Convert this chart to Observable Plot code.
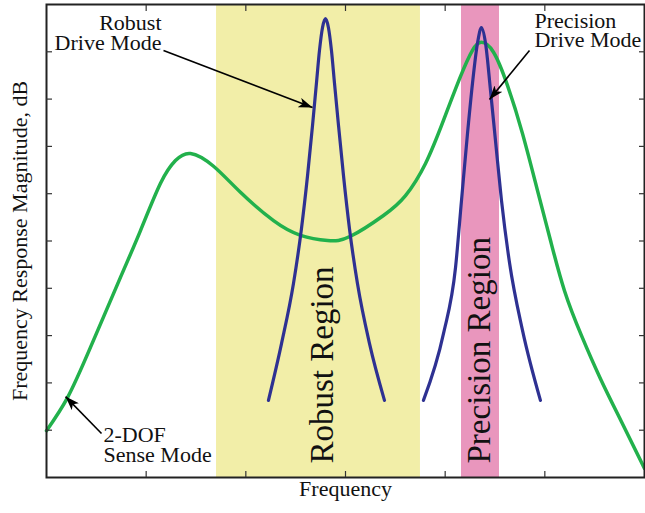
<!DOCTYPE html>
<html><head><meta charset="utf-8">
<script src="https://cdn.jsdelivr.net/npm/d3@7"></script>
<script src="https://cdn.jsdelivr.net/npm/@observablehq/plot@0.6"></script>
<style>body{margin:0;background:#fff}</style>
</head><body><div id="chart"></div>
<script>
// 2-DOF sense mode (green)
const senseX = [0, 0.211, 0.441, 0.742, 0.943, 1.144, 1.294, 1.445, 1.676, 1.946, 2.278, 2.549, 2.820, 3.050, 3.381, 3.602, 3.803, 3.983, 4.154, 4.274, 4.364, 4.485, 4.625, 4.776, 4.926, 5.057, 5.197, 5.368, 5.558, 5.769, 6.0];
const senseY = [0.99, 1.69, 2.75, 4.23, 5.22, 6.22, 6.70, 6.85, 6.58, 6.03, 5.43, 5.12, 5.01, 5.10, 5.54, 5.96, 6.64, 7.55, 8.48, 9.03, 9.20, 8.99, 8.29, 7.27, 6.07, 5.01, 3.95, 3.00, 2.09, 1.18, 0.19];
// Robust drive mode (blue)
const robustX = [2.227, 2.358, 2.478, 2.558, 2.619, 2.669, 2.709, 2.739, 2.769, 2.799, 2.829, 2.859, 2.889, 2.930, 2.980, 3.040, 3.120, 3.241, 3.391];
const robustY = [1.63, 2.83, 4.10, 5.26, 6.38, 7.44, 8.35, 9.03, 9.51, 9.70, 9.51, 9.03, 8.35, 7.44, 6.38, 5.26, 4.10, 2.83, 1.63];
// Precision drive mode (blue)
const precisionX = [3.782, 3.983, 4.104, 4.164, 4.224, 4.274, 4.324, 4.364, 4.405, 4.455, 4.505, 4.565, 4.645, 4.776, 4.956];
const precisionY = [1.63, 3.04, 4.44, 5.86, 7.27, 8.33, 9.18, 9.51, 9.18, 8.18, 7.12, 5.86, 4.55, 3.11, 1.63];
// Regions
const regionNames = ["Robust Region", "Precision Region"];
const regionX1 = [1.706, 4.164];
const regionX2 = [3.752, 4.545];
const regionLabelX = [2.764, 4.339];
const regionLabelY = [0.296, 0.296];
// Annotations
const noteText = ["Robust\nDrive Mode", "Precision\nDrive Mode", "2-DOF\nSense Mode"];
const noteX = [1.154, 4.896, 0.572];
const noteY = [9.383, 9.438, 0.672];
const noteAnchor = ["end", "start", "start"];
const arrowX1 = [1.174, 4.846, 0.552];
const arrowY1 = [9.03, 9.03, 0.93];
const arrowX2 = [2.669, 4.445, 0.191];
const arrowY2 = [7.82, 7.99, 1.71];
// Ticks and axis labels
const xTicks = [1, 2, 3, 4, 5];
const yTicks = [1, 2, 3, 4, 5, 6, 7, 8, 9];
const xLabel = "Frequency";
const yLabel = "Frequency Response Magnitude, dB";

const toPts = (xs, ys) => xs.map((x, i) => ({x, y: ys[i]}));
const sense = toPts(senseX, senseY);
const robust = toPts(robustX, robustY);
const precision = toPts(precisionX, precisionY);
const regions = regionNames.map((name, i) => ({name, x1: regionX1[i], x2: regionX2[i], lx: regionLabelX[i], ly: regionLabelY[i]}));
const notes = noteText.map((text, i) => ({text, x: noteX[i], y: noteY[i], anchor: noteAnchor[i]}));
const arrows = arrowX1.map((x1, i) => ({x1, y1: arrowY1[i], x2: arrowX2[i], y2: arrowY2[i]}));

const tickOpts = {tickSize: 6, tickFormat: () => "", label: null, stroke: "#333", strokeWidth: 1.2};
const font = "Liberation Serif, Times New Roman, serif";

const chart = Plot.plot({
  width: 645, height: 513,
  marginLeft: 46, marginRight: 1, marginTop: 4, marginBottom: 36,
  x: {domain: [0, 6], label: null},
  y: {domain: [0, 10], label: null},
  color: {domain: regionNames, range: ["#f2eea8", "#e996bd"]},
  style: {fontFamily: font, background: "white", color: "black"},
  marks: [
    Plot.rect(regions, {x1: "x1", x2: "x2", fill: "name"}),
    Plot.line(sense, {x: "x", y: "y", stroke: "#22b14c", strokeWidth: 3.5, curve: "natural"}),
    Plot.line(robust, {x: "x", y: "y", stroke: "#2e3192", strokeWidth: 3.2, curve: "monotone-x"}),
    Plot.line(precision, {x: "x", y: "y", stroke: "#2e3192", strokeWidth: 3.2, curve: "monotone-x"}),
    Plot.text(regions, {x: "lx", y: "ly", text: "name", rotate: -90, textAnchor: "start", fontSize: 33, fill: "#111"}),
    Plot.text(notes.filter(d => d.anchor === "end"), {x: "x", y: "y", text: "text", textAnchor: "end", lineHeight: 0.9, fontSize: 22, fill: "#111"}),
    Plot.text(notes.filter(d => d.anchor === "start"), {x: "x", y: "y", text: "text", textAnchor: "start", lineHeight: 0.9, fontSize: 22, fill: "#111"}),
    Plot.link(arrows, {x1: "x1", y1: "y1", x2: "x2", y2: "y2", stroke: "black", strokeWidth: 1.6}),
    Plot.frame({stroke: "#222", strokeWidth: 2}),
    Plot.axisX({...tickOpts, ticks: xTicks, anchor: "bottom", dy: -6}),
    Plot.axisX({...tickOpts, ticks: xTicks, anchor: "top", dy: 6}),
    Plot.axisY({...tickOpts, ticks: yTicks, anchor: "left", dx: 6}),
    Plot.axisY({...tickOpts, ticks: yTicks, anchor: "right", dx: -6}),
    Plot.text([xLabel], {text: d => d, frameAnchor: "bottom", textAnchor: "middle", dy: 18.3, fontSize: 22, fill: "#111"}),
    Plot.text([yLabel], {text: d => d, frameAnchor: "left", textAnchor: "middle", rotate: -90, dx: -26.7, fontSize: 22, fill: "#111"})
  ]
});

// filled arrowheads for annotation arrows
const ns = "http://www.w3.org/2000/svg";
const defs = document.createElementNS(ns, "defs");
const marker = document.createElementNS(ns, "marker");
marker.setAttribute("id", "ahead");
marker.setAttribute("viewBox", "0 0 14 10");
marker.setAttribute("refX", "14");
marker.setAttribute("refY", "5");
marker.setAttribute("markerWidth", "14");
marker.setAttribute("markerHeight", "10");
marker.setAttribute("markerUnits", "userSpaceOnUse");
marker.setAttribute("orient", "auto");
const mp = document.createElementNS(ns, "path");
mp.setAttribute("d", "M0,0L14,5L0,10L3.5,5Z");
mp.setAttribute("fill", "black");
marker.appendChild(mp);
defs.appendChild(marker);
chart.insertBefore(defs, chart.firstChild);
chart.querySelectorAll('g[aria-label="link"] path, g[aria-label="link"] line').forEach(p => p.setAttribute("marker-end", "url(#ahead)"));

document.getElementById("chart").appendChild(chart);
</script>
</body></html>
